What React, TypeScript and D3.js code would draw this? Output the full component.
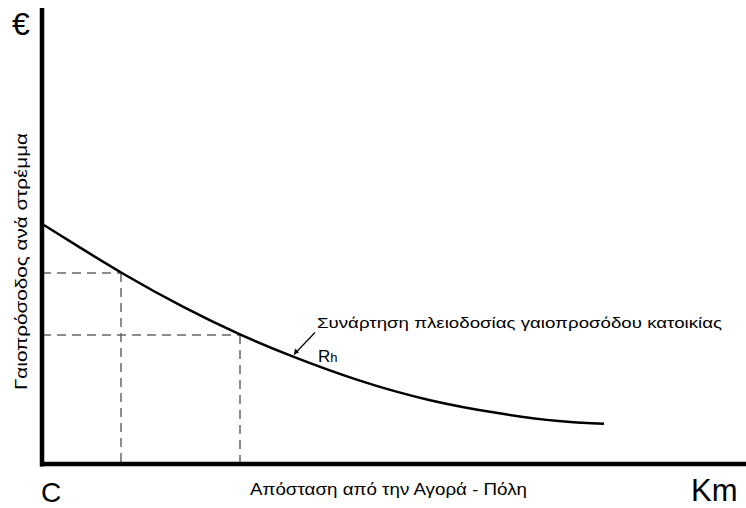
import * as d3 from 'd3';
import React from 'react';

// distance from the market (km) and bid rent (€ per stremma)
const distKm = [0, 0.5, 1.1, 2, 2.8, 3.5, 4.5, 5.5, 6.5, 7.4, 8];
const rentVal = [52.4, 47.6, 41.9, 34.2, 28.3, 23.8, 18.1, 13.8, 11.0, 9.2, 8.8];

// the two reference points with dashed guides
const guideKm = [1.1, 2.8];
const guideRent = [41.9, 28.3];

const yTitle = 'Γαιοπρόσοδος ανά στρέμμα';
const xTitle = 'Απόσταση από την Αγορά - Πόλη';
const curveTitle = 'Συνάρτηση πλειοδοσίας γαιοπροσόδου κατοικίας';

const W = 746;
const H = 508;
const FONT = '"Liberation Sans", Arial, sans-serif';

export default function App() {
  const x = d3.scaleLinear().domain([0, 10]).range([44, 744]);
  const y = d3.scaleLinear().domain([0, 100]).range([464, 8]);

  const pts: [number, number][] = distKm.map((d, i) => [d, rentVal[i]]);
  const line = d3.line<[number, number]>()
    .x(d => x(d[0]))
    .y(d => y(d[1]))
    .curve(d3.curveBasis);

  const x0 = x(0) - 2;
  const y0 = y(0);

  // leader anchor on curve
  const ax = x(distKm[5]) + 5;
  const ay = y(rentVal[5]) - 1;

  return (
    <div style={{ position: 'absolute', left: 0, top: 0 }}>
      <svg width={W} height={H} style={{ display: 'block', background: '#fff' }}>
        {/* dashed guides */}
        {guideKm.map((g, i) => (
          <g key={i} stroke="#666" strokeWidth={1.5} strokeDasharray="9,6" fill="none">
            <line x1={x0} x2={x(g)} y1={y(guideRent[i])} y2={y(guideRent[i])} />
            <line x1={x(g)} x2={x(g)} y1={y(guideRent[i])} y2={y0} />
          </g>
        ))}

        {/* bid rent curve */}
        <path d={line(pts) || ''} fill="none" stroke="#000" strokeWidth={2.5} />

        {/* axes */}
        <line x1={x0} x2={x0} y1={8} y2={y0 + 2.5} stroke="#000" strokeWidth={4.5} />
        <line x1={x0 - 2} x2={W} y1={y0} y2={y0} stroke="#000" strokeWidth={4.5} />

        {/* leader + labels */}
        <line x1={ax} y1={ay} x2={ax + 21} y2={ay - 22} stroke="#000" strokeWidth={1.2} />
        <path d={`M${ax},${ay} l1,-6 l4,4 z`} fill="#000" />
        <text x={317} y={328} fontFamily={FONT} fontSize={15} textLength={405}
          lengthAdjust="spacingAndGlyphs">{curveTitle}</text>
        <text x={318} y={362} fontFamily={FONT} fontSize={17}>R<tspan fontSize={13}>h</tspan></text>

        <text x={250} y={495} fontFamily={FONT} fontSize={16} textLength={277}
          lengthAdjust="spacingAndGlyphs">{xTitle}</text>
        <text transform="translate(27,390) rotate(-90)" fontFamily={FONT} fontSize={16}
          textLength={257} lengthAdjust="spacingAndGlyphs">{yTitle}</text>

        <text x={12} y={35} fontFamily={FONT} fontSize={32}>€</text>
        <text x={41} y={502} fontFamily={FONT} fontSize={28}>C</text>
        <text x={691} y={501} fontFamily={FONT} fontSize={31}>Km</text>
      </svg>
    </div>
  );
}
